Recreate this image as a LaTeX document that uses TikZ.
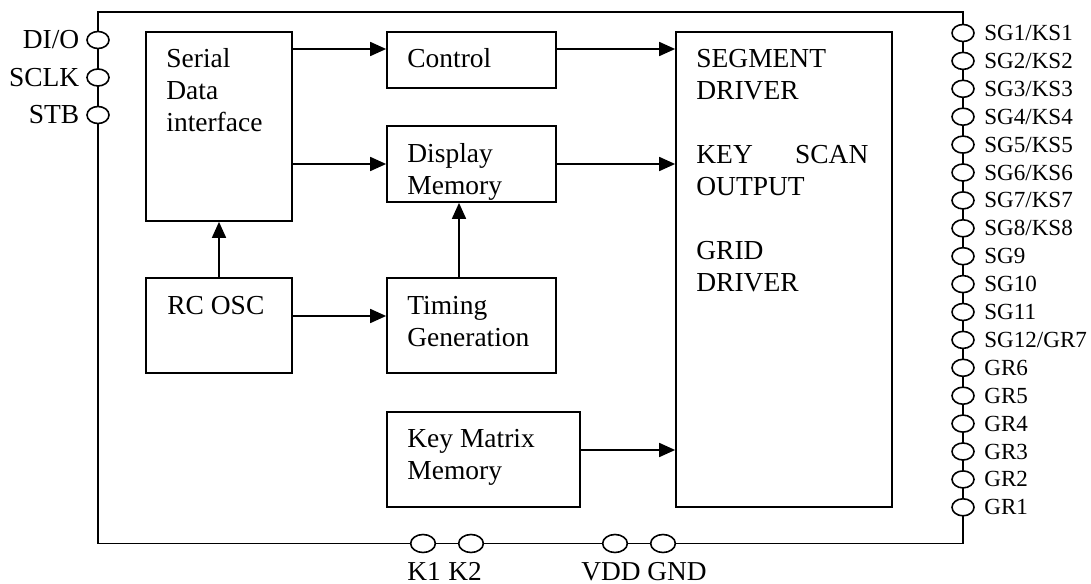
\documentclass[tikz,border=0pt]{standalone}
\usepackage{fontspec}
\setmainfont{Liberation Serif}
\usetikzlibrary{positioning,arrows.meta,shapes.geometric,fit,calc}

\tikzset{
  wire/.style={line width=1.3pt},
  blk/.style={draw, rectangle, line width=1.3pt, inner sep=0pt},
  txt/.style={anchor=base west, inner sep=0pt, font=\fontsize{20.6}{24}\selectfont},
  arr/.style={line width=1.3pt, -{Triangle[length=12pt,width=10.5pt]}},
  pad/.style={ellipse, draw, line width=1.2pt, fill=white, inner sep=0pt,
              minimum width=16.5pt, minimum height=12.75pt},
  llbl/.style={anchor=east, inner sep=0pt, font=\fontsize{20.6}{24}\selectfont},
  rlbl/.style={anchor=west, inner sep=0pt, font=\fontsize{17.3}{20}\selectfont},
  blbl/.style={anchor=base, inner sep=0pt, font=\fontsize{20.5}{24}\selectfont}
}

\begin{document}
\begin{tikzpicture}[x=0.75pt,y=-0.75pt]
  \useasboundingbox (0,0) rectangle (1091,584);

  % chip outline
  \draw[wire] (98,12) rectangle (963,543.5);

  % function blocks
  \node[blk, fit={(146,32) (292,221)}] (ser) {};
  \node[blk, fit={(387,32) (556,88)}] (ctl) {};
  \node[blk, fit={(387,126) (556,202)}] (dsp) {};
  \node[blk, fit={(146,278) (292,373)}] (osc) {};
  \node[blk, fit={(387,278) (556,373)}] (tim) {};
  \node[blk, fit={(387,412) (580,507)}] (key) {};
  \node[blk, fit={(676,32) (892,507)}] (drv) {};

  % block texts, first baseline 36px below the top edge
  \node[txt] (serT) at ($(ser.north west)+(21,36)$) {\parbox[t]{90pt}{Serial\\Data\\interface}};
  \node[txt] (ctlT) at ($(ctl.north west)+(21,36)$) {Control};
  \node[txt] (dspT) at ($(dsp.north west)+(21,37)$) {\parbox[t]{90pt}{Display\\Memory}};
  \node[txt] (oscT) at ($(osc.north west)+(22,37)$) {RC OSC};
  \node[txt] (timT) at ($(tim.north west)+(21,37)$) {\parbox[t]{110pt}{Timing\\Generation}};
  \node[txt] (keyT) at ($(key.north west)+(21,36)$) {\parbox[t]{120pt}{Key Matrix\\Memory}};
  \node[txt] (drvT) at ($(drv.north west)+(21,36)$) {\parbox[t]{129pt}{SEGMENT\\DRIVER\\[24pt]KEY\hfill SCAN\\OUTPUT\\[24pt]GRID\\DRIVER}};

  % signal flow
  \coordinate (rowA) at (0,49);
  \coordinate (rowC) at (0,316);
  \coordinate (rowD) at (0,450);
  \coordinate (colT) at (459,0);
  \draw[arr] (ser.east |- rowA) -- (ctl.west |- rowA);
  \draw[arr] (ctl.east |- rowA) -- (drv.west |- rowA);
  \draw[arr] (ser.east |- dsp.west) -- (dsp.west);
  \draw[arr] (dsp.east) -- (drv.west |- dsp.east);
  \draw[arr] (osc.north) -- (ser.south);
  \draw[arr] (osc.east |- rowC) -- (tim.west |- rowC);
  \draw[arr] (tim.north -| colT) -- (dsp.south -| colT);
  \draw[arr] (key.east |- rowD) -- (drv.west |- rowD);

  % left pins
  \foreach \n [count=\i] in {DI/O,SCLK,STB} {
    \node[pad] (L\i) at (98,{40+37.5*(\i-1)}) {};
    \node[llbl, left=5pt of L\i] (LT\i) {\n};
  }

  % right pins
  \foreach \n [count=\i from 0] in {SG1/KS1,SG2/KS2,SG3/KS3,SG4/KS4,SG5/KS5,SG6/KS6,SG7/KS7,SG8/KS8,SG9,SG10,SG11,SG12/GR7,GR6,GR5,GR4,GR3,GR2,GR1} {
    \node[pad] (R\i) at (963,{33+27.9*\i}) {};
    \node[rlbl, right=7pt of R\i] (RT\i) {\n};
  }

  % bottom pins
  \foreach \x/\n in {423/K1,471/K2,615/VDD,663/GND} {
    \node[pad, minimum width=18.5pt, minimum height=13.5pt] (B\n) at (\x,543.5) {};
  }
  \foreach \x/\n in {424/K1,465/K2,611/VDD,677/GND} {
    \node[blbl] (BT\n) at (\x,580) {\n};
  }
\end{tikzpicture}
\end{document}
